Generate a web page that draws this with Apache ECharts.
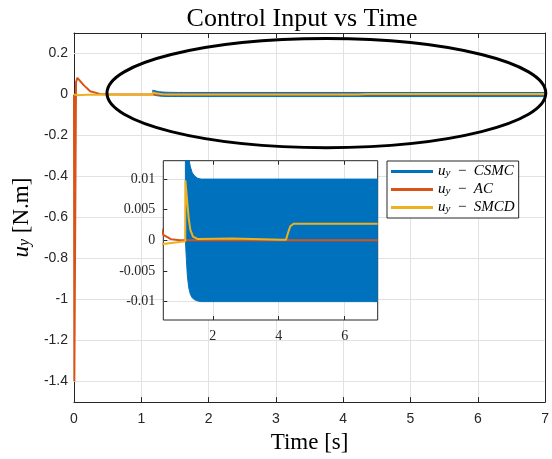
<!DOCTYPE html>
<html>
<head>
<meta charset="utf-8">
<script src="https://cdn.jsdelivr.net/npm/echarts@6/dist/echarts.min.js"></script>
<style>
  html, body { margin: 0; padding: 0; background: #fff; }
  #chart { width: 552px; height: 459px; }
</style>
</head>
<body>
<div id="chart"></div>
<script>
// ---- Data: control input u_y [N.m] versus time [s] ----
// CSMC chatters at high frequency; it is drawn as its upper/lower envelope band.
const csmcTime  = [1.17, 1.17, 1.2, 1.23, 1.27, 1.32, 1.38, 1.45, 1.55, 1.65, 7];
const csmcUpper = [0, 0.021, 0.019, 0.016, 0.0135, 0.012, 0.011, 0.0105, 0.0101, 0.01, 0.01];
const csmcLower = [0, 0, -0.0031, -0.0058, -0.0077, -0.0088, -0.0094, -0.0097, -0.0099, -0.01, -0.01];

const acTime  = [0, 0.005, 0.03, 0.05, 0.08, 0.14, 0.24, 0.38, 0.5, 0.73, 1.0, 7];
const acValue = [0, -1.40, 0.06, 0.081, 0.07, 0.047, 0.016, 0.003, 0.0009, 0.0002, 0, 0];

const smcdTime  = [0, 0.05, 0.2, 0.5, 0.8, 1.1, 1.165, 1.17, 1.22, 1.27, 1.32, 1.4, 1.55, 2.6, 4.1, 4.22, 4.28, 4.35, 4.45, 4.6, 7];
const smcdValue = [0, -0.003, -0.0012, -0.0006, -0.0004, -0.0002, -0.0002, 0.0098, 0.0066, 0.0036, 0.0017, 0.0006, 0.0002, 0.0003, 0.0001, 0.0001, 0.0012, 0.0023, 0.0027, 0.0027, 0.0027];

// ---- Axis ticks ----
const mainYTicks  = [-1.4, -1.2, -1, -0.8, -0.6, -0.4, -0.2, 0, 0.2];
const insetXTicks = [2, 4, 6];
const insetYTicks = [-0.01, -0.005, 0, 0.005, 0.01];

// ---- Labels ----
const titleText = 'Control Input vs Time';
const xName = 'Time [s]';
const legendNames = ['CSMC', 'AC', 'SMCD'];

const colors = { CSMC: '#0072BD', AC: '#D95319', SMCD: '#EDB120' };
const AXIS = '#262626';
const GRIDLINE = '#e2e2e2';
const SERIF = '"Liberation Serif", "DejaVu Serif", serif';
const SANS = '"Liberation Sans", Arial, sans-serif';

const zip = (t, v) => t.map((x, i) => [x, v[i]]);

const chart = echarts.init(document.getElementById('chart'), null, { renderer: 'canvas' });

// Grid lines drawn as mark lines so they sit exactly on the listed tick values
function gridLineSeries(xi, yi, xs, ys, z) {
  return {
    type: 'line', xAxisIndex: xi, yAxisIndex: yi, data: [], z: z, silent: true,
    markLine: {
      z: z, silent: true, symbol: ['none', 'none'], animation: false,
      label: { show: false },
      lineStyle: { color: GRIDLINE, width: 1, type: 'solid' },
      emphasis: { disabled: true },
      data: xs.map(v => ({ xAxis: v })).concat(ys.map(v => ({ yAxis: v })))
    }
  };
}

function dataSeries(name, xi, yi, data, z, area) {
  const s = {
    name: name, type: 'line', xAxisIndex: xi, yAxisIndex: yi,
    data: data, showSymbol: false, symbol: 'none', z: z, clip: true,
    lineStyle: { color: colors[name], width: area ? 1 : 2 },
    itemStyle: { color: colors[name] },
    emphasis: { disabled: true }
  };
  if (area) s.areaStyle = { color: colors[name], opacity: 1, origin: 0 };
  return s;
}

const richLabel = (size) => ({
  i: { fontFamily: SERIF, fontStyle: 'italic', fontSize: size, color: '#000' },
  s: { fontFamily: SERIF, fontStyle: 'italic', fontSize: Math.round(size * 0.7), color: '#000', verticalAlign: 'bottom', lineHeight: Math.round(size * 0.55) },
  n: { fontFamily: SERIF, fontSize: size, color: '#000' }
});

const option = {
  animation: false,
  backgroundColor: '#fff',
  title: {
    text: titleText, left: 297, top: 1, textAlign: 'center',
    textStyle: { fontFamily: SERIF, fontSize: 26, fontWeight: 'normal', color: '#000' }
  },
  legend: {
    data: legendNames, orient: 'vertical', left: 387, top: 161,
    icon: 'rect', itemWidth: 42, itemHeight: 3, itemGap: 3,
    padding: [3, 4, 3, 4], selectedMode: false,
    backgroundColor: '#fff', borderColor: AXIS, borderWidth: 1, z: 8,
    formatter: n => '{i|u}{s|y}{n|  −  }{i|' + n + '}',
    textStyle: { fontFamily: SERIF, fontSize: 15, lineHeight: 15, color: '#000', rich: richLabel(15) }
  },
  grid: [
    { left: 74, right: 3.5, top: 33, bottom: 56, show: false },
    { left: 163.3, right: 174.3, top: 160.7, bottom: 139, show: true, z: 5,
      backgroundColor: '#fff', borderColor: AXIS, borderWidth: 1 }
  ],
  xAxis: [
    { type: 'value', gridIndex: 0, min: 0, max: 7, interval: 1, position: 'bottom',
      name: xName, nameLocation: 'middle', nameGap: 27,
      nameTextStyle: { fontFamily: SERIF, fontSize: 23, color: '#000' },
      axisLine: { onZero: false, lineStyle: { color: AXIS, width: 1 } },
      axisTick: { inside: true, length: 5, lineStyle: { color: AXIS } },
      axisLabel: { fontFamily: SANS, fontSize: 14, color: AXIS, margin: 10 },
      splitLine: { show: true, lineStyle: { color: GRIDLINE, width: 1 } } },
    { type: 'value', gridIndex: 0, min: 0, max: 7, interval: 1, position: 'top',
      axisLine: { show: true, onZero: false, lineStyle: { color: AXIS, width: 1 } },
      axisTick: { inside: true, length: 5, lineStyle: { color: AXIS } },
      axisLabel: { show: false }, splitLine: { show: false } },
    { type: 'value', gridIndex: 1, min: 0.5, max: 7, position: 'bottom', z: 6,
      axisLine: { show: false, onZero: false },
      axisTick: { inside: true, length: 4, customValues: insetXTicks, lineStyle: { color: AXIS } },
      axisLabel: { customValues: insetXTicks, fontFamily: SERIF, fontSize: 14, color: AXIS, margin: 9 },
      splitLine: { show: false } },
    { type: 'value', gridIndex: 1, min: 0.5, max: 7, position: 'top', z: 6,
      axisLine: { show: false, onZero: false },
      axisTick: { inside: true, length: 4, customValues: insetXTicks, lineStyle: { color: AXIS } },
      axisLabel: { show: false }, splitLine: { show: false } }
  ],
  yAxis: [
    { type: 'value', gridIndex: 0, min: -1.5, max: 0.3, position: 'left',
      name: '{i|u}{s|y}{n| [N.m]}', nameLocation: 'middle', nameGap: 32,
      nameTextStyle: { fontFamily: SERIF, fontSize: 23, color: '#000', rich: richLabel(23) },
      axisLine: { show: true, onZero: false, lineStyle: { color: AXIS, width: 1 } },
      axisTick: { inside: true, length: 5, customValues: mainYTicks, lineStyle: { color: AXIS } },
      axisLabel: { customValues: mainYTicks, fontFamily: SANS, fontSize: 14, color: AXIS, margin: 6 },
      splitLine: { show: false } },
    { type: 'value', gridIndex: 0, min: -1.5, max: 0.3, position: 'right',
      axisLine: { show: true, onZero: false, lineStyle: { color: AXIS, width: 1 } },
      axisTick: { inside: true, length: 5, customValues: mainYTicks, lineStyle: { color: AXIS } },
      axisLabel: { show: false }, splitLine: { show: false } },
    { type: 'value', gridIndex: 1, min: -0.013, max: 0.013, position: 'left', z: 6,
      axisLine: { show: false, onZero: false },
      axisTick: { inside: true, length: 4, customValues: insetYTicks, lineStyle: { color: AXIS } },
      axisLabel: { customValues: insetYTicks, fontFamily: SERIF, fontSize: 14, color: AXIS, margin: 8 },
      splitLine: { show: false } },
    { type: 'value', gridIndex: 1, min: -0.013, max: 0.013, position: 'right', z: 6,
      axisLine: { show: false, onZero: false },
      axisTick: { inside: true, length: 4, customValues: insetYTicks, lineStyle: { color: AXIS } },
      axisLabel: { show: false }, splitLine: { show: false } }
  ],
  series: [
    // main axes
    gridLineSeries(0, 0, [], mainYTicks, 1),
    dataSeries('CSMC', 0, 0, zip(csmcTime, csmcUpper), 2, true),
    dataSeries('CSMC', 0, 0, zip(csmcTime, csmcLower), 2, true),
    dataSeries('AC', 0, 0, zip(acTime, acValue), 3, false),
    dataSeries('SMCD', 0, 0, zip(smcdTime, smcdValue), 4, false),
    // inset (zoomed) axes
    gridLineSeries(2, 2, insetXTicks, insetYTicks, 6),
    dataSeries('CSMC', 2, 2, zip(csmcTime, csmcUpper), 7, true),
    dataSeries('CSMC', 2, 2, zip(csmcTime, csmcLower), 7, true),
    dataSeries('AC', 2, 2, zip(acTime, acValue), 7, false),
    dataSeries('SMCD', 2, 2, zip(smcdTime, smcdValue), 7, false)
  ]
};

chart.setOption(option);

// Highlight ellipse around the steady-state region, placed in data units of the main axes
const ellipseCenter = [3.75, 0.007];
const ellipseRadius = [3.26, 0.266];
const c = chart.convertToPixel({ xAxisIndex: 0, yAxisIndex: 0 }, ellipseCenter);
const e = chart.convertToPixel({ xAxisIndex: 0, yAxisIndex: 0 },
  [ellipseCenter[0] + ellipseRadius[0], ellipseCenter[1] + ellipseRadius[1]]);
chart.setOption({
  graphic: [{
    type: 'ellipse', z: 9, silent: true,
    shape: { cx: c[0], cy: c[1], rx: e[0] - c[0], ry: c[1] - e[1] },
    style: { fill: 'none', stroke: '#000', lineWidth: 3 }
  }]
});
</script>
</body>
</html>
